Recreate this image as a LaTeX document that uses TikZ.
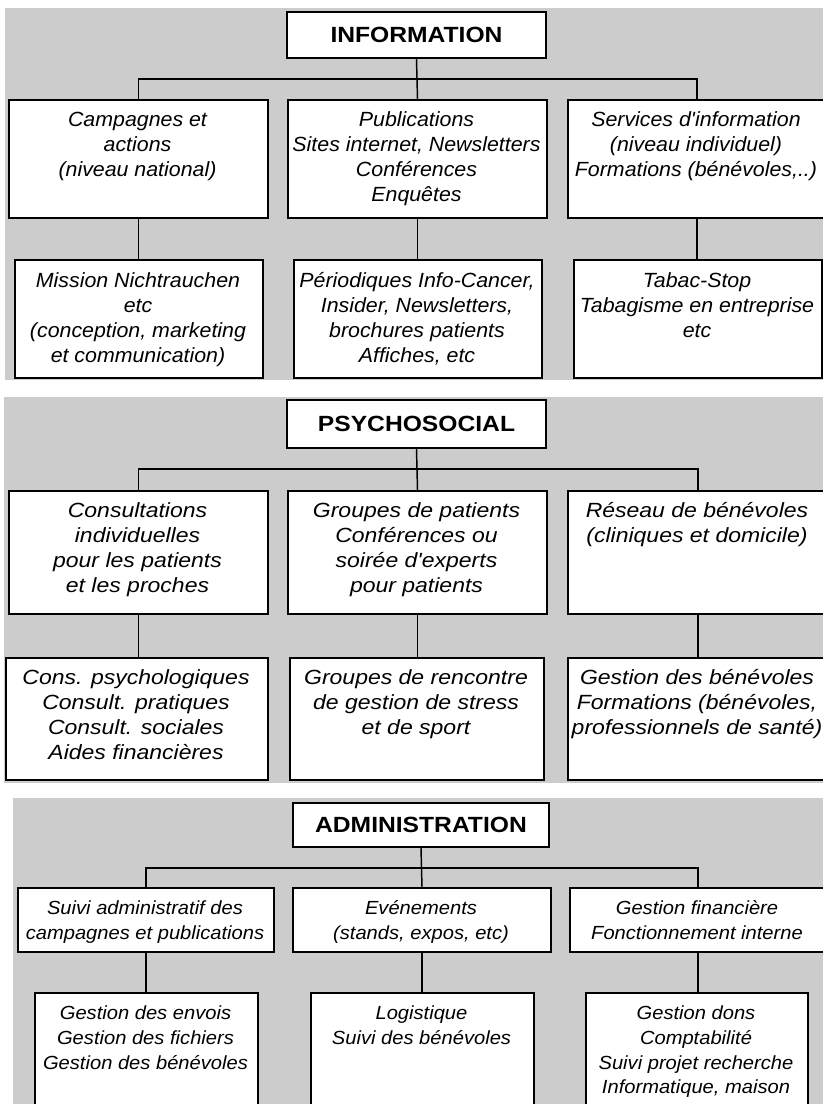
\documentclass[tikz,border=0pt]{standalone}
\usepackage{fontspec}
\setmainfont{Liberation Sans}
\newfontfamily\infofont[FakeStretch=1.04]{Liberation Sans}
\newfontfamily\psyfont[FakeStretch=1.12]{Liberation Sans}
\newfontfamily\admfont[FakeStretch=1.06]{Liberation Sans}
\newfontfamily\headfont[FakeStretch=1.12]{Liberation Sans}
\definecolor{panelgray}{RGB}{204,204,204}

\tikzset{every picture/.style={line width=0.75pt}}
\tikzset{
  panel/.style={fill=panelgray, draw=none},
  headbox/.style={draw, fill=white, line width=1.5pt, inner sep=0pt,
    font=\headfont\fontsize{16.5}{20}\selectfont\bfseries},
  itembox/.style={draw, fill=white, line width=1.5pt, inner sep=0pt, anchor=north west},
  itemtext/.style={align=center, inner sep=0pt, anchor=north,
    font=\boxfont\boxsize\itshape},
  link/.style={line width=1.1pt},
}
\let\boxfont\infofont
\def\boxsize{\fontsize{15.4}{18.75}\selectfont}

% heading box: name, x1, y1, x2, y2, text
\newcommand{\headbox}[6]{%
  \node[headbox, minimum width={(#4-#2)*0.75pt}, minimum height={(#5-#3)*0.75pt}]
    (#1) at ({(#2+#4)/2},{(#3+#5)/2}) {#6};
}
% item box: [text offset], name, x1, y1, x2, y2, text
\newcommand{\itembox}[7][9]{%
  \node[itembox, minimum width={(#5-#3)*0.75pt}, minimum height={(#6-#4)*0.75pt}] (#2) at (#3,#4) {};
  \node[itemtext] (#2t) at ({(#3+#5)/2},{#4+#1}) {\strut #7};
}

\begin{document}
\begin{tikzpicture}[x=0.75pt,y=0.75pt,yscale=-1,xscale=1]
\useasboundingbox (0,0) rectangle (823,1104);
\clip (0,0) rectangle (823,1104);

%Panels
\fill[panel] (5,8) rectangle (830,380);
\fill[panel] (4,397) rectangle (830,783);
\fill[panel] (13,798) rectangle (830,1110);

%INFORMATION
\let\boxfont\infofont
\headbox{info}{287}{12}{546}{58}{INFORMATION}
\itembox{camp}{8}{99}{267}{217}{Campagnes et\\actions\\(niveau national)}
\itembox{publ}{287}{99}{546}{217}{Publications\\Sites internet, Newsletters\\Conférences\\Enquêtes}
\itembox{serv}{567}{99}{825}{217}{Services d'information\\(niveau individuel)\\Formations (bénévoles,..)}
\itembox[10]{miss}{14}{259}{262}{377}{Mission Nichtrauchen\\etc\\(conception, marketing\\et communication)}
\itembox[10]{peri}{293}{259}{541}{377}{Périodiques Info-Cancer,\\Insider, Newsletters,\\brochures patients\\Affiches, etc}
\itembox[10]{taba}{573}{259}{821}{377}{Tabac-Stop\\Tabagisme en entreprise\\etc}
\coordinate (infobus) at (416.5,79);
\draw[link] (info.south) -- (publ.north);
\draw[link] (camp.north) |- (infobus) -| (serv.north);
\draw[link] (camp.south) -- (camp.south |- miss.north);
\draw[link] (publ.south) -- (publ.south |- peri.north);
\draw[link] (serv.south) -- (serv.south |- taba.north);

%PSYCHOSOCIAL
\let\boxfont\psyfont
\headbox{psy}{287}{400}{546}{448}{PSYCHOSOCIAL}
\itembox{cons}{8}{490}{267}{613}{Consultations\\individuelles\\pour les patients\\et les proches}
\itembox{grou}{287}{490}{546}{613}{Groupes de patients\\Conférences ou\\soirée d'experts\\pour patients}
\itembox{rese}{567}{490}{827}{613}{Réseau de bénévoles\\(cliniques et domicile)}
\itembox{cpsy}{5}{657}{267}{779}{Cons. psychologiques\\Consult. pratiques\\Consult. sociales\\Aides financières}
\itembox{renc}{289}{657}{543}{779}{Groupes de rencontre\\de gestion de stress\\et de sport}
\itembox{gben}{567}{657}{827}{779}{Gestion des bénévoles\\Formations (bénévoles,\\professionnels de santé)}
\coordinate (psybus) at (416.5,469);
\draw[link] (psy.south) -- (grou.north);
\draw[link] (cons.north) |- (psybus) -| (rese.north);
\draw[link] (cons.south) -- (cons.south |- cpsy.north);
\draw[link] (grou.south) -- (grou.south |- renc.north);
\draw[link] (rese.south) -- (rese.south |- gben.north);

%ADMINISTRATION
\let\boxfont\admfont
\def\boxsize{\fontsize{14.25}{18.5}\selectfont}
\headbox{adm}{293}{803}{549}{847}{ADMINISTRATION}
\itembox[10]{suiv}{17}{887}{273}{951}{Suivi administratif des\\campagnes et publications}
\itembox[10]{even}{292}{887}{550}{951}{Evénements\\(stands, expos, etc)}
\itembox[10]{gfin}{569}{887}{825}{951}{Gestion financière\\Fonctionnement interne}
\itembox[10]{genv}{34}{992}{257}{1112}{Gestion des envois\\Gestion des fichiers\\Gestion des bénévoles}
\itembox[10]{logi}{310}{992}{533}{1112}{Logistique\\Suivi des bénévoles}
\itembox[10]{gdon}{585}{992}{807}{1112}{Gestion dons\\Comptabilité\\Suivi projet recherche\\Informatique, maison}
\coordinate (admbus) at (421,868);
\draw[link] (adm.south) -- (even.north);
\draw[link] (suiv.north) |- (admbus) -| (gfin.north);
\draw[link] (suiv.south) -- (suiv.south |- genv.north);
\draw[link] (even.south) -- (even.south |- logi.north);
\draw[link] (gfin.south) -- (gfin.south |- gdon.north);

\end{tikzpicture}
\end{document}
